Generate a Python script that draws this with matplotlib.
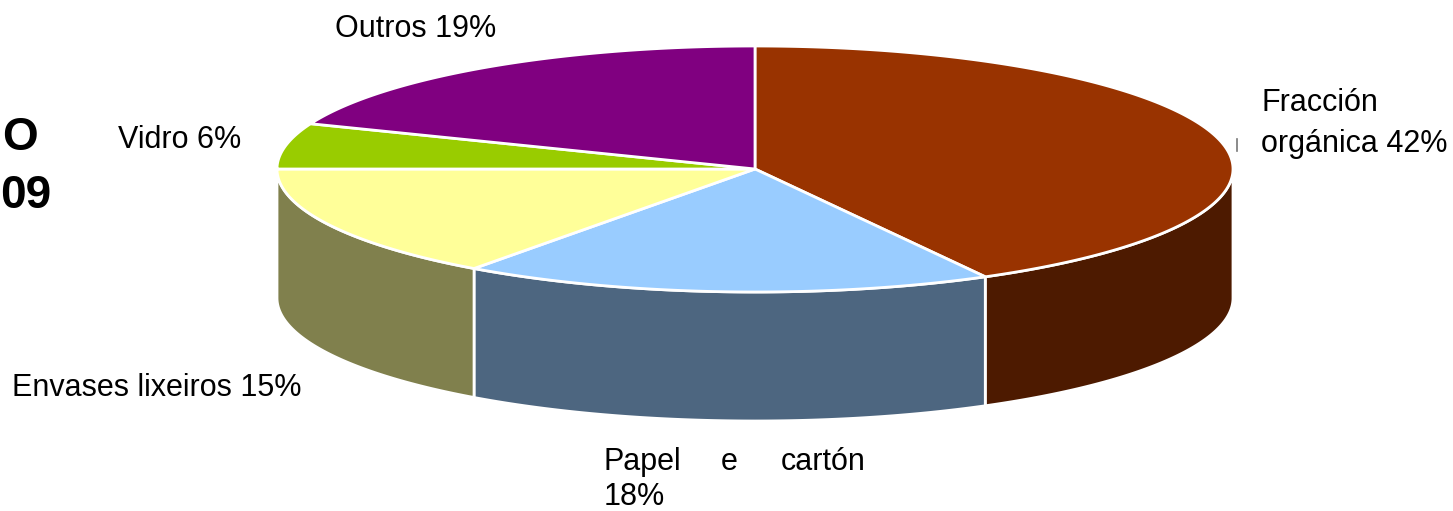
import numpy as np
import matplotlib
matplotlib.use("Agg")
import matplotlib.pyplot as plt
from matplotlib.patches import Polygon

labels = ["Fracción orgánica", "Papel e cartón", "Envases lixeiros", "Vidro", "Outros"]
values = [42, 18, 15, 6, 19]
top_colors = ["#993300", "#99CCFF", "#FFFF99", "#99CC00", "#800080"]
side_colors = ["#4D1A00", "#4D6680", "#80804D", "#4D6600", "#400040"]

W, H = 1453, 511
CX, CY, RX, RY, DEPTH = 755, 169, 478, 123, 129

plt.rcParams["font.family"] = ["Liberation Sans", "DejaVu Sans"]
fig = plt.figure(figsize=(W / 100, H / 100), dpi=100, facecolor="white")
ax = fig.add_axes([0, 0, 1, 1])
ax.set_xlim(0, W)
ax.set_ylim(H, 0)
ax.axis("off")


def rim(a0, a1, n=200):
    t = np.linspace(a0, a1, n)
    return CX + RX * np.sin(t), CY - RY * np.cos(t)


cum = np.cumsum([0] + values) / sum(values) * 2 * np.pi
for i in range(len(values)):
    a0, a1 = cum[i], cum[i + 1]
    lo, hi = max(a0, np.pi / 2), min(a1, 3 * np.pi / 2)
    if lo < hi:
        x, y = rim(lo, hi)
        pts = np.r_[np.c_[x, y], np.c_[x[::-1], y[::-1] + DEPTH]]
        ax.add_patch(Polygon(pts, closed=True, facecolor=side_colors[i], edgecolor="white", linewidth=2, zorder=2))
for i in range(len(values)):
    x, y = rim(cum[i], cum[i + 1])
    pts = np.r_[[[CX, CY]], np.c_[x, y]]
    ax.add_patch(Polygon(pts, closed=True, facecolor=top_colors[i], edgecolor="white", linewidth=2, zorder=3))

fs = 22
c = "black"
ax.text(1261, 103, "Fracción", fontsize=fs, color=c, va="center", ha="left")
ax.text(1261, 144, f"orgánica {values[0]}%", fontsize=fs, color=c, va="center", ha="left")
ax.text(604, 462, "Papel", fontsize=fs, color=c, va="center", ha="left")
ax.text(721, 462, "e", fontsize=fs, color=c, va="center", ha="left")
ax.text(781, 462, "cartón", fontsize=fs, color=c, va="center", ha="left")
ax.text(604, 497, f"{values[1]}%", fontsize=fs, color=c, va="center", ha="left")
ax.text(12, 388, f"{labels[2]} {values[2]}%", fontsize=fs, color=c, va="center", ha="left")
ax.text(118, 140, f"{labels[3]} {values[3]}%", fontsize=fs, color=c, va="center", ha="left")
ax.text(335, 29, f"{labels[4]} {values[4]}%", fontsize=fs, color=c, va="center", ha="left")

ax.plot([1237, 1237], [139, 151], color="#777777", linewidth=1.2, zorder=1)

ax.text(38, 138, "O", fontsize=33, fontweight="bold", color="black", va="center", ha="right")
ax.text(51, 196, "09", fontsize=33, fontweight="bold", color="black", va="center", ha="right")

fig.savefig("out.png", dpi=100, facecolor="white")
